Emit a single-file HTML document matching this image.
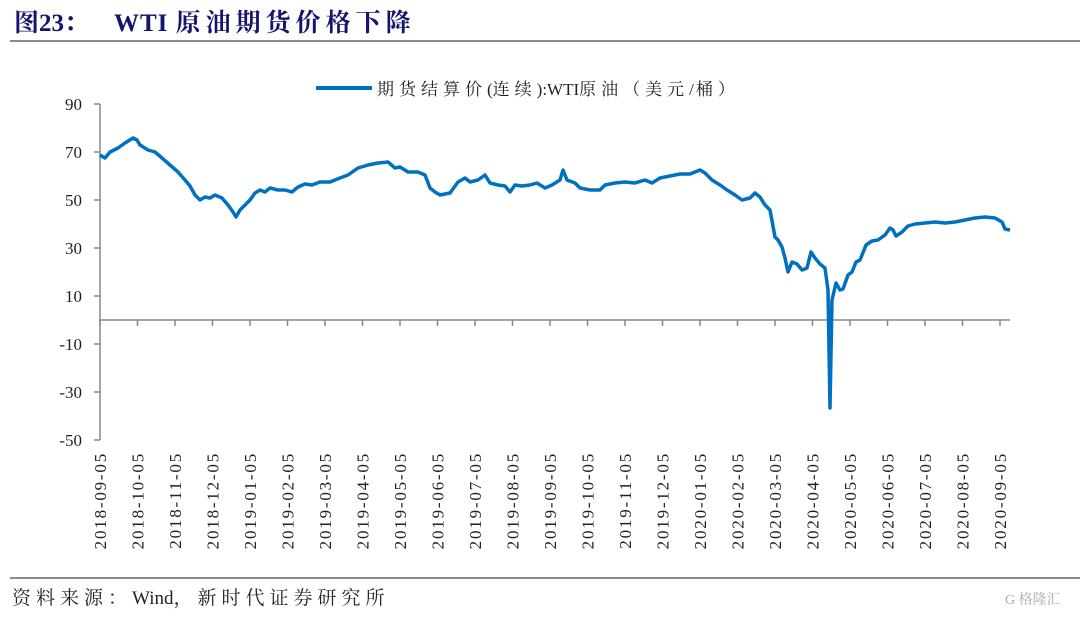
<!DOCTYPE html>
<html><head><meta charset="utf-8"><style>
body{margin:0;background:#fff;width:1080px;height:614px;overflow:hidden;font-family:"Liberation Serif","Noto Serif CJK SC",serif;}
</style></head><body>
<svg width="1080" height="614" viewBox="0 0 1080 614" xmlns="http://www.w3.org/2000/svg" font-family="'Liberation Serif','Noto Serif CJK SC',serif">
<text x="14" y="31" font-size="25" font-weight="bold" fill="#14146e">图23：</text>
<text x="114" y="31" font-size="25" font-weight="bold" fill="#14146e"><tspan letter-spacing="1">WTI </tspan><tspan letter-spacing="5">原油期货价格下降</tspan></text>
<rect x="10" y="40" width="1070" height="2" fill="#8c8c8c"/>
<line x1="316" y1="88" x2="372" y2="88" stroke="#0070c0" stroke-width="4"/>
<text x="377" y="95" font-size="17" fill="#222"><tspan letter-spacing="5">期货结算价</tspan><tspan>(</tspan><tspan letter-spacing="5">连续</tspan><tspan>):WTI</tspan><tspan letter-spacing="5">原油（美元</tspan><tspan letter-spacing="2">/</tspan><tspan letter-spacing="5">桶）</tspan></text>
<g stroke="#888" stroke-width="1.5" fill="none">
<line x1="100" y1="104" x2="100" y2="440"/>
<line x1="100" y1="320" x2="1010" y2="320"/>
</g>
<g stroke="#888" stroke-width="1.5">
<line x1="94" y1="104" x2="100" y2="104"/><line x1="94" y1="152" x2="100" y2="152"/><line x1="94" y1="200" x2="100" y2="200"/><line x1="94" y1="248" x2="100" y2="248"/><line x1="94" y1="296" x2="100" y2="296"/><line x1="94" y1="344" x2="100" y2="344"/><line x1="94" y1="392" x2="100" y2="392"/><line x1="94" y1="440" x2="100" y2="440"/>
<line x1="100" y1="320" x2="100" y2="326"/><line x1="137.5" y1="320" x2="137.5" y2="326"/><line x1="175" y1="320" x2="175" y2="326"/><line x1="212.5" y1="320" x2="212.5" y2="326"/><line x1="250" y1="320" x2="250" y2="326"/><line x1="287.5" y1="320" x2="287.5" y2="326"/><line x1="325" y1="320" x2="325" y2="326"/><line x1="362.5" y1="320" x2="362.5" y2="326"/><line x1="400" y1="320" x2="400" y2="326"/><line x1="437.5" y1="320" x2="437.5" y2="326"/><line x1="475" y1="320" x2="475" y2="326"/><line x1="512.5" y1="320" x2="512.5" y2="326"/><line x1="550" y1="320" x2="550" y2="326"/><line x1="587.5" y1="320" x2="587.5" y2="326"/><line x1="625" y1="320" x2="625" y2="326"/><line x1="662.5" y1="320" x2="662.5" y2="326"/><line x1="700" y1="320" x2="700" y2="326"/><line x1="737.5" y1="320" x2="737.5" y2="326"/><line x1="775" y1="320" x2="775" y2="326"/><line x1="812.5" y1="320" x2="812.5" y2="326"/><line x1="850" y1="320" x2="850" y2="326"/><line x1="887.5" y1="320" x2="887.5" y2="326"/><line x1="925" y1="320" x2="925" y2="326"/><line x1="962.5" y1="320" x2="962.5" y2="326"/><line x1="1000" y1="320" x2="1000" y2="326"/>
</g>
<g font-size="17" fill="#222" text-anchor="end">
<text x="82" y="110">90</text><text x="82" y="158">70</text><text x="82" y="206">50</text><text x="82" y="254">30</text><text x="82" y="302">10</text><text x="82" y="350">-10</text><text x="82" y="398">-30</text><text x="82" y="446">-50</text>
</g>
<g font-size="17" fill="#222" text-anchor="end" letter-spacing="1.8">
<text transform="translate(106,452) rotate(-90)">2018-09-05</text>
<text transform="translate(143.5,452) rotate(-90)">2018-10-05</text>
<text transform="translate(181,452) rotate(-90)">2018-11-05</text>
<text transform="translate(218.5,452) rotate(-90)">2018-12-05</text>
<text transform="translate(256,452) rotate(-90)">2019-01-05</text>
<text transform="translate(293.5,452) rotate(-90)">2019-02-05</text>
<text transform="translate(331,452) rotate(-90)">2019-03-05</text>
<text transform="translate(368.5,452) rotate(-90)">2019-04-05</text>
<text transform="translate(406,452) rotate(-90)">2019-05-05</text>
<text transform="translate(443.5,452) rotate(-90)">2019-06-05</text>
<text transform="translate(481,452) rotate(-90)">2019-07-05</text>
<text transform="translate(518.5,452) rotate(-90)">2019-08-05</text>
<text transform="translate(556,452) rotate(-90)">2019-09-05</text>
<text transform="translate(593.5,452) rotate(-90)">2019-10-05</text>
<text transform="translate(631,452) rotate(-90)">2019-11-05</text>
<text transform="translate(668.5,452) rotate(-90)">2019-12-05</text>
<text transform="translate(706,452) rotate(-90)">2020-01-05</text>
<text transform="translate(743.5,452) rotate(-90)">2020-02-05</text>
<text transform="translate(781,452) rotate(-90)">2020-03-05</text>
<text transform="translate(818.5,452) rotate(-90)">2020-04-05</text>
<text transform="translate(856,452) rotate(-90)">2020-05-05</text>
<text transform="translate(893.5,452) rotate(-90)">2020-06-05</text>
<text transform="translate(931,452) rotate(-90)">2020-07-05</text>
<text transform="translate(968.5,452) rotate(-90)">2020-08-05</text>
<text transform="translate(1006,452) rotate(-90)">2020-09-05</text>
</g>
<polyline fill="none" stroke="#0070c0" stroke-width="3.5" stroke-linejoin="round" points="100,155 105,158 110,152 118,148 125,143 133,138 137,140 140,145 148,150 155,152 162,158 170,165 178,172 185,180 190,186 195,195 200,200 205,197 210,198 215,195 222,198 228,205 233,212 236,217 240,210 245,205 250,200 255,193 260,190 265,192 270,188 278,190 285,190 292,192 298,187 305,184 312,185 320,182 330,182 340,178 348,175 358,168 368,165 378,163 388,162 395,168 400,167 408,172 418,172 425,175 430,188 435,192 440,195 450,193 458,182 465,178 470,182 478,180 485,175 490,183 498,185 505,186 510,192 515,185 522,186 530,185 537,183 545,188 552,185 560,180 563,170 567,180 575,183 580,188 590,190 600,190 605,185 615,183 625,182 635,183 645,180 652,183 660,178 670,176 680,174 690,174 700,170 705,173 712,180 720,185 727,190 735,195 742,200 750,198 755,193 760,197 765,205 770,210 775,237 778,240 782,247 785,258 788,272 792,262 797,264 802,270 807,268 811,252 815,258 820,264 825,268 828,290 830,408 832,300 836,283 840,290 843,289 848,275 852,272 856,262 860,260 866,245 872,241 878,240 885,235 890,228 893,230 896,236 902,232 908,226 915,224 925,223 935,222 945,223 955,222 965,220 975,218 985,217 995,218 1002,222 1005,229 1010,230"/>
<rect x="10" y="577" width="1070" height="2" fill="#8c8c8c"/>
<text x="12" y="604" font-size="19" fill="#222"><tspan letter-spacing="5">资料来源：</tspan><tspan>Wind</tspan><tspan letter-spacing="5">，新时代证券研究所</tspan></text>
<text x="1005" y="604" font-size="14" fill="#aaa">G 格隆汇</text>
</svg>
</body></html>
